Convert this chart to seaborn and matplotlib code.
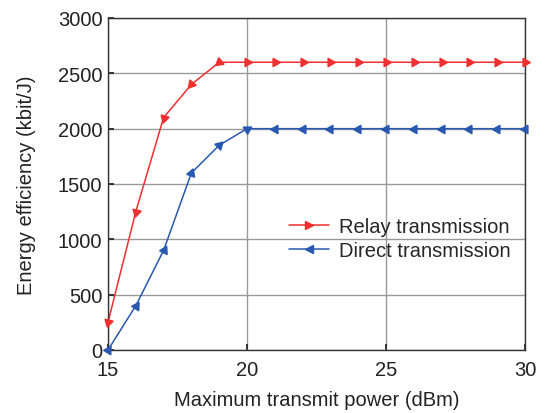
import numpy as np
import pandas as pd
import matplotlib
matplotlib.use("Agg")
import matplotlib.pyplot as plt
import seaborn as sns
from matplotlib.lines import Line2D

power = [15, 16, 17, 18, 19, 20, 21, 22, 23, 24, 25, 26, 27, 28, 29, 30]
relay = [250, 1250, 2100, 2400, 2600, 2600, 2600, 2600, 2600, 2600, 2600, 2600, 2600, 2600, 2600, 2600]
direct = [0, 400, 900, 1600, 1850, 2000, 2000, 2000, 2000, 2000, 2000, 2000, 2000, 2000, 2000, 2000]
labels = ["Relay transmission", "Direct transmission"]

sns.set_theme(style="white")
plt.rcParams['font.family'] = ['Liberation Sans', 'DejaVu Sans']

fig = plt.figure(figsize=(5.45, 4.14), dpi=100)
ax = fig.add_axes([108/545, 1 - 351/414, 417/545, 332/414])

df = pd.DataFrame({"power": power * 2,
                   "ee": relay + direct,
                   "series": [labels[0]] * len(power) + [labels[1]] * len(power)})
colors = {labels[0]: "#f03030", labels[1]: "#2858b0"}
sns.lineplot(data=df, x="power", y="ee", hue="series", palette=colors, ax=ax,
             linewidth=1.1, legend=False)

ax.set_xlim(15, 30)
ax.set_ylim(0, 3000)
ax.set_xticks([15, 20, 25, 30])
ax.set_yticks(np.arange(0, 3001, 500))
ax.grid(True, color="#999999", linewidth=1.0)
ax.tick_params(direction="in", length=4, labelsize=14.5, colors="#222222", pad=4,
               left=True, bottom=True)
ax.tick_params(axis="x", pad=7)
for s in ax.spines.values():
    s.set_color("#333333")
    s.set_linewidth(1.0)
ax.set_xlabel("Maximum transmit power (dBm)", fontsize=14.5, color="#222222", labelpad=8)
ax.set_ylabel("Energy efficiency (kbit/J)", fontsize=14.5, color="#222222", labelpad=16)

# arrow-like triangle markers oriented along the curve
def draw_markers(ys, color, reverse_slope, flat_dir):
    pts = ax.transData.transform(np.column_stack([power, ys]))
    for i in range(len(power)):
        if i == 0:
            d = pts[1] - pts[0]
        else:
            d = pts[i] - pts[i - 1]
        flat = abs(d[1]) < 1e-6
        if flat:
            ang = 0 if flat_dir > 0 else 180
        else:
            ang = np.degrees(np.arctan2(d[1], d[0]))
            if reverse_slope:
                ang += 180
        ax.plot([power[i]], [ys[i]], marker=(3, 0, ang - 90), color=color,
                markersize=7, linestyle="none", clip_on=False, zorder=3)

draw_markers(relay, colors[labels[0]], True, 1)
draw_markers(direct, colors[labels[1]], False, -1)

handles = [Line2D([], [], color=colors[labels[0]], marker=">", markersize=6, lw=1.1),
           Line2D([], [], color=colors[labels[1]], marker="<", markersize=6, lw=1.1)]
ax.legend(handles, labels, loc="center right", bbox_to_anchor=(1.0, 0.335),
          frameon=False, fontsize=14.5, handlelength=2.0, labelspacing=0.25,
          handletextpad=0.5, borderaxespad=0.3)

fig.savefig("out.png", dpi=100)
